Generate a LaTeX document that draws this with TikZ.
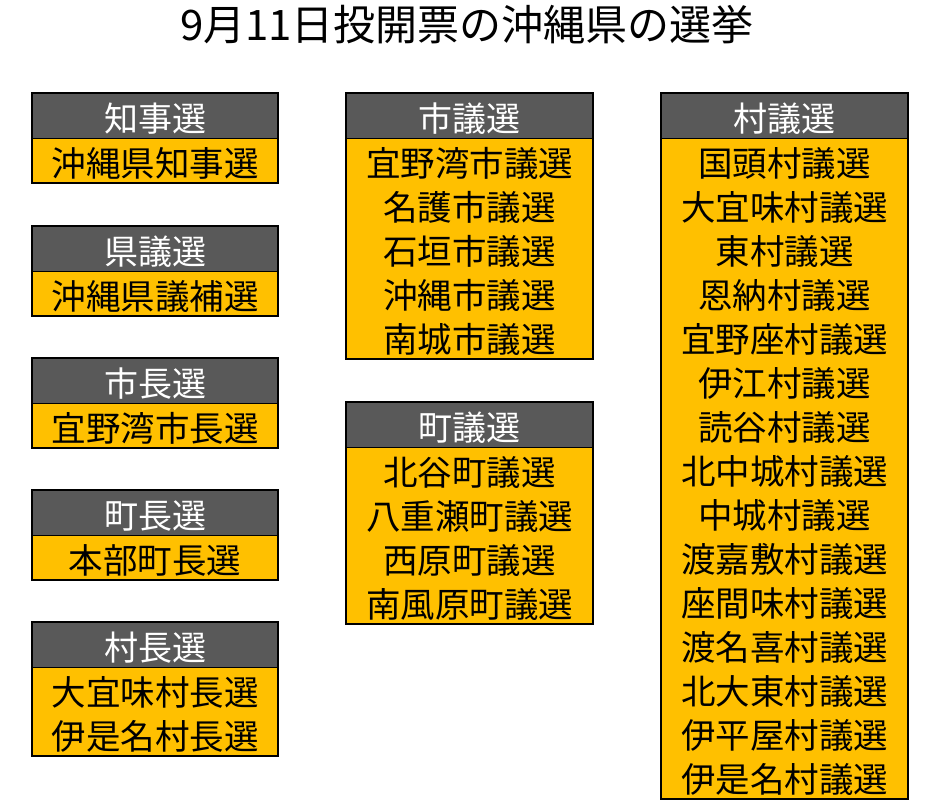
\documentclass[tikz,border=0pt]{standalone}
\usepackage{fontspec}
\setmainfont{Noto Sans CJK JP}
\definecolor{hdrgray}{HTML}{595959}
\definecolor{bodyorange}{HTML}{FFC000}
\tikzset{
  hdr/.style={fill=hdrgray, minimum width=246pt, minimum height=45pt, inner sep=0pt},
  bdy/.style={fill=bodyorange, minimum width=246pt, inner sep=0pt},
  hdrtext/.style={text=white, inner sep=0pt, font=\fontsize{34}{44}\selectfont},
  bdytext/.style={text=black, inner sep=0pt, align=center, font=\fontsize{34.5}{44}\selectfont},
  frame/.style={draw=black, line width=1.8pt},
  titletext/.style={font=\fontsize{42}{50}\selectfont, inner sep=0pt}
}
\newcommand{\elbox}[6]{%
  \node[hdr, anchor=north] (#1h) at (#2,#3) {};
  \node[bdy, anchor=north, minimum height=#5*44pt] (#1b) at (#1h.south) {};
  \node[hdrtext, yshift=-3pt] (#1ht) at (#1h.center) {#4};
  \node[bdytext, yshift=-3pt] (#1bt) at (#1b.center) {#6};
  \draw[frame] (#1h.north west) rectangle (#1b.south east);
  \draw[black, line width=0.6pt] (#1h.south west) -- (#1h.south east);
}
\begin{document}
\begin{tikzpicture}[x=1pt,y=-1pt]
\useasboundingbox[fill=white] (0,0) rectangle (942,809);
\node[titletext] (title) at (467,25) {9月11日投開票の沖縄県の選挙};
% left column
\elbox{a}{155}{93}{知事選}{1}{沖縄県知事選}
\elbox{b}{155}{226}{県議選}{1}{沖縄県議補選}
\elbox{c}{155}{358}{市長選}{1}{宜野湾市長選}
\elbox{d}{155}{490}{町長選}{1}{本部町長選}
\elbox{e}{155}{622}{村長選}{2}{大宜味村長選\\伊是名村長選}
% middle column
\elbox{f}{469.5}{93}{市議選}{5}{宜野湾市議選\\名護市議選\\石垣市議選\\沖縄市議選\\南城市議選}
\elbox{g}{469.5}{402}{町議選}{4}{北谷町議選\\八重瀬町議選\\西原町議選\\南風原町議選}
% right column
\elbox{h}{784.5}{93}{村議選}{15}{国頭村議選\\大宜味村議選\\東村議選\\恩納村議選\\宜野座村議選\\伊江村議選\\読谷村議選\\北中城村議選\\中城村議選\\渡嘉敷村議選\\座間味村議選\\渡名喜村議選\\北大東村議選\\伊平屋村議選\\伊是名村議選}
\end{tikzpicture}
\end{document}
